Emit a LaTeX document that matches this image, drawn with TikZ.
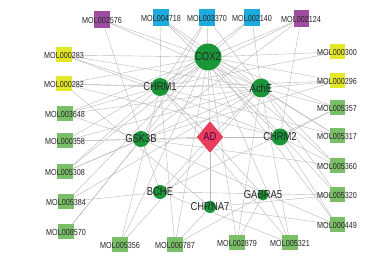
\documentclass[tikz,border=0pt]{standalone}
\usepackage{fontspec}
\usepackage{tikz}
\usetikzlibrary{shapes.geometric,backgrounds}
\newfontfamily\narrowsf[FakeStretch=0.82]{Liberation Sans}
\definecolor{molpurple}{RGB}{158,78,160}
\definecolor{molcyan}{RGB}{30,170,220}
\definecolor{molyellow}{RGB}{228,230,40}
\definecolor{molgreen}{RGB}{122,190,104}
\definecolor{tgtgreen}{RGB}{24,150,56}
\definecolor{adred}{RGB}{232,62,92}

\begin{document}
\begin{tikzpicture}[x=0.03cm,y=-0.03cm,
  mol/.style={rectangle,inner sep=0pt,minimum width=0.45cm,minimum height=0.45cm},
  lbl/.style={font=\narrowsf\fontsize{7.5}{8}\selectfont,text=black!85,inner sep=0pt},
  tgt/.style={circle,fill=tgtgreen,inner sep=0pt},
  tlbl/.style={font=\narrowsf\fontsize{9.8}{10}\selectfont,text=black!85,inner sep=0pt},
  link/.style={gray!55,line width=0.35pt}]
  \useasboundingbox (0,0) rectangle (381,260);
  % compounds, top row
  \node[mol,fill=molpurple,minimum height=0.51cm,label={[lbl]center:MOL002576}] (m2576) at (102,20) {};
  \node[mol,fill=molcyan,minimum height=0.51cm,label={[lbl]center:MOL004718}] (m4718) at (161,18) {};
  \node[mol,fill=molcyan,minimum height=0.51cm,label={[lbl]center:MOL003370}] (m3370) at (207,18) {};
  \node[mol,fill=molcyan,minimum height=0.51cm,label={[lbl]center:MOL002140}] (m2140) at (252,18) {};
  \node[mol,fill=molpurple,minimum height=0.51cm,label={[lbl]center:MOL002124}] (m2124) at (301,19) {};
  % left column
  \node[mol,fill=molyellow,label={[lbl]center:MOL000283}] (m0283) at (64,55) {};
  \node[mol,fill=molyellow,label={[lbl]center:MOL000282}] (m0282) at (64,84) {};
  \node[mol,fill=molgreen,label={[lbl]center:MOL003648}] (m3648) at (65,114) {};
  \node[mol,fill=molgreen,label={[lbl]center:MOL000358}] (m0358) at (65,141) {};
  \node[mol,fill=molgreen,label={[lbl]center:MOL005308}] (m5308) at (65,172) {};
  \node[mol,fill=molgreen,label={[lbl]center:MOL005384}] (m5384) at (66,202) {};
  \node[mol,fill=molgreen,label={[lbl]center:MOL008570}] (m8570) at (66,232) {};
  % bottom row
  \node[mol,fill=molgreen,label={[lbl]center:MOL005356}] (m5356) at (120,245) {};
  \node[mol,fill=molgreen,label={[lbl]center:MOL000787}] (m0787) at (175,245) {};
  \node[mol,fill=molgreen,label={[lbl]center:MOL002879}] (m2879) at (237,243) {};
  \node[mol,fill=molgreen,label={[lbl]center:MOL005321}] (m5321) at (290,243) {};
  % right column
  \node[mol,fill=molyellow,label={[lbl]center:MOL000300}] (m0300) at (337,52) {};
  \node[mol,fill=molyellow,label={[lbl]center:MOL000296}] (m0296) at (337,81) {};
  \node[mol,fill=molgreen,label={[lbl]center:MOL005357}] (m5357) at (337,108) {};
  \node[mol,fill=molgreen,label={[lbl]center:MOL005317}] (m5317) at (337,136) {};
  \node[mol,fill=molgreen,label={[lbl]center:MOL005360}] (m5360) at (337,166) {};
  \node[mol,fill=molgreen,label={[lbl]center:MOL005320}] (m5320) at (337,195) {};
  \node[mol,fill=molgreen,label={[lbl]center:MOL000449}] (m0449) at (337,225) {};
  % targets
  \node[tgt,minimum size=0.81cm,label={[tlbl]center:COX2}] (cox2) at (208,57) {};
  \node[tgt,minimum size=0.54cm,label={[tlbl]center:CHRM1}] (chrm1) at (160,87) {};
  \node[tgt,minimum size=0.57cm,label={[tlbl]center:AchE}] (ache) at (261,88) {};
  \node[tgt,minimum size=0.48cm,label={[tlbl]center:GSK3B}] (gsk3b) at (141,139) {};
  \node[tgt,minimum size=0.51cm,label={[tlbl]center:CHRM2}] (chrm2) at (280,137) {};
  \node[tgt,minimum size=0.42cm,label={[tlbl]center:BCHE}] (bche) at (160,192) {};
  \node[tgt,minimum size=0.36cm,label={[tlbl]center:CHRNA7}] (chrna7) at (210,207) {};
  \node[tgt,minimum size=0.33cm,label={[tlbl]center:GABRA5}] (gabra5) at (263,195) {};
  % disease
  \node[diamond,fill=adred,inner sep=0pt,minimum width=0.8cm,minimum height=0.95cm,
    label={[tlbl,text=violet!60!black]center:AD}] (ad) at (210,137) {};
  % links
  \begin{scope}[on background layer]
    \foreach \t in {cox2,chrm1,ache,gsk3b,chrm2,bche,chrna7,gabra5}
      \draw[link] (ad) -- (\t);
    \foreach \m/\t in {m2576/cox2,m2576/ache,m2576/bche,
        m4718/chrm1,m4718/cox2,m4718/ache,m4718/chrm2,
        m3370/cox2,m3370/chrm1,m3370/ache,m3370/gsk3b,
        m2140/cox2,m2140/chrm1,m2140/ache,
        m2124/cox2,m2124/chrm1,m2124/chrm2,m2124/gsk3b,
        m0283/chrm1,m0283/ache,m0283/cox2,m0283/chrm2,
        m0282/chrm1,m0282/ache,m0282/cox2,m0282/chrm2,m0282/chrna7,
        m3648/chrm1,m3648/ache,m3648/cox2,m3648/gsk3b,
        m0358/gsk3b,m0358/cox2,m0358/chrm2,m0358/ache,
        m5308/chrm1,m5308/cox2,m5308/ache,m5308/gsk3b,
        m5384/cox2,m5384/bche,m5384/ache,
        m8570/gsk3b,m8570/cox2,
        m5356/chrm1,m5356/cox2,m5356/ache,
        m0787/chrm1,m0787/cox2,m0787/chrna7,m0787/gabra5,
        m2879/gabra5,m2879/cox2,m2879/ache,
        m5321/cox2,m5321/chrm1,m5321/ache,m5321/bche,
        m0300/cox2,m0300/chrm1,
        m0296/cox2,m0296/ache,m0296/chrm1,m0296/gsk3b,
        m5357/ache,m5357/cox2,m5357/chrm2,m5357/bche,
        m5317/ache,m5317/chrm1,m5317/cox2,
        m5360/chrm2,m5360/cox2,m5360/gsk3b,m5360/ache,
        m5320/ache,m5320/cox2,m5320/chrna7,m5320/bche,
        m0449/chrm2,m0449/cox2,m0449/chrna7,m0449/gsk3b}
      \draw[link] (\m) -- (\t);
  \end{scope}
\end{tikzpicture}
\end{document}
